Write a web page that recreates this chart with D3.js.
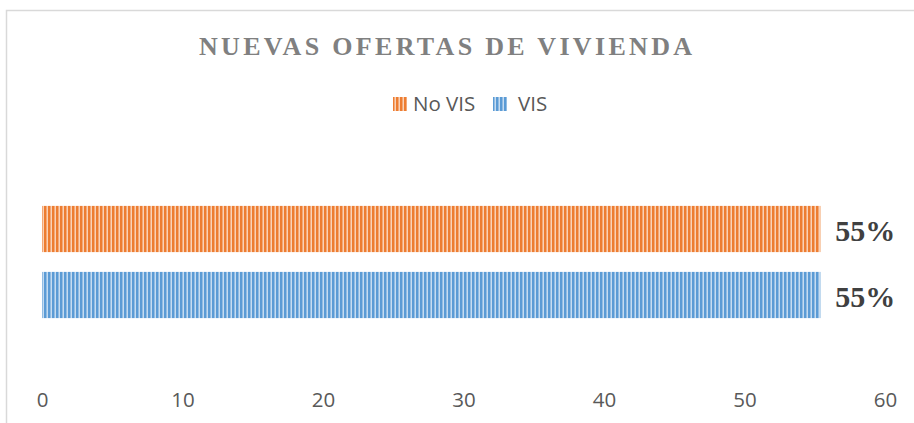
<!DOCTYPE html>
<html>
<head>
<meta charset="utf-8">
<script src="https://cdn.jsdelivr.net/npm/d3@7"></script>
<style>
  body { margin: 0; background: #fff; }
</style>
</head>
<body>
<div class="chart"></div>
<script>
const svgWidth = 914;
const svgHeight = 423;

// data
const categories = ["No VIS", "VIS"];
const values = [55.4, 55.4];
const valueLabels = ["55%", "55%"];
const colors = ["#ED7D31", "#5B9BD5"];
const xTicks = [0, 10, 20, 30, 40, 50, 60];

const svg = d3.select(".chart")
    .append("svg")
    .attr("width", svgWidth)
    .attr("height", svgHeight);

// stripe patterns
const defs = svg.append("defs");
categories.forEach((c, i) => {
    const p = defs.append("pattern")
        .attr("id", "stripe" + i)
        .attr("patternUnits", "userSpaceOnUse")
        .attr("width", 4)
        .attr("height", 10);
    p.append("rect").attr("width", 4).attr("height", 10).attr("fill", "#fff");
    p.append("rect").attr("width", 2.6).attr("height", 10).attr("fill", colors[i]);
    p.append("rect").attr("x", 2.6).attr("width", 1.4).attr("height", 10)
        .attr("fill", colors[i]).attr("opacity", 0.35);
});

// chart border (partly clipped)
svg.append("path")
    .attr("d", `M6.5,${svgHeight} V10.5 H${svgWidth}`)
    .attr("fill", "none")
    .attr("stroke", "#d9d9d9")
    .attr("stroke-width", 1.5);

const x = d3.scaleLinear().domain([0, 60]).range([42, 885]);
const y = d3.scaleBand().domain(categories).range([196, 328]).paddingInner(0.3).paddingOuter(0.15);

// title
svg.append("text")
    .attr("x", 199)
    .attr("y", 55)
    .attr("textLength", 497)
    .attr("lengthAdjust", "spacing")
    .style("font-family", "'Liberation Serif', 'Times New Roman', serif")
    .style("font-weight", "bold")
    .style("font-size", "26px")
    .style("letter-spacing", "4px")
    .attr("fill", "#808080")
    .text("NUEVAS OFERTAS DE VIVIENDA");

// legend
const legendX = [393, 493];
categories.forEach((c, i) => {
    svg.append("rect")
        .attr("x", legendX[i])
        .attr("y", 97)
        .attr("width", 14)
        .attr("height", 14)
        .attr("fill", `url(#stripe${i})`);
    svg.append("text")
        .attr("x", legendX[i] + (i === 0 ? 20 : 25))
        .attr("y", 111)
        .style("font-family", "'Open Sans', sans-serif")
        .style("font-size", "20.5px")
        .attr("fill", "#595959")
        .text(c);
});

// bars
svg.selectAll(".bar")
    .data(categories)
    .enter()
    .append("rect")
    .attr("class", "bar")
    .attr("x", x(0))
    .attr("y", d => y(d))
    .attr("width", (d, i) => x(values[i]) - x(0))
    .attr("height", y.bandwidth())
    .attr("fill", (d, i) => `url(#stripe${i})`);

// value labels
svg.selectAll(".val")
    .data(categories)
    .enter()
    .append("text")
    .attr("class", "val")
    .attr("x", (d, i) => x(values[i]) + 15)
    .attr("y", d => y(d) + y.bandwidth() / 2 + 12)
    .style("font-family", "'Liberation Serif', 'Times New Roman', serif")
    .style("font-weight", "bold")
    .style("font-size", "30px")
    .attr("fill", "#404040")
    .text((d, i) => valueLabels[i]);

// x axis
const xAxis = svg.append("g")
    .attr("transform", "translate(0, 407)")
    .call(d3.axisBottom(x).tickValues(xTicks).tickSize(0).tickPadding(0));
xAxis.select(".domain").remove();
xAxis.selectAll("text")
    .attr("dy", "0")
    .style("font-family", "'Open Sans', sans-serif")
    .style("font-size", "20.5px")
    .attr("fill", "#595959");
</script>
</body>
</html>
